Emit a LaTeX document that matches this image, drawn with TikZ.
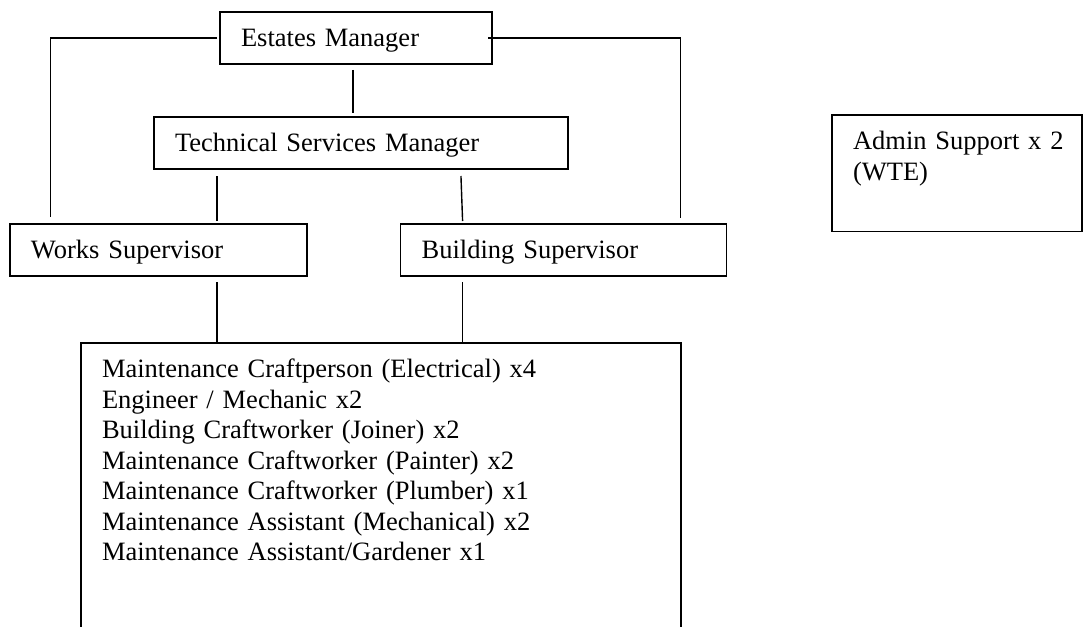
\documentclass[tikz,border=0pt]{standalone}
\usepackage{fontspec}
\setmainfont{Liberation Serif}
\begin{document}
\begin{tikzpicture}[x=0.5pt, y=-0.5pt,
        orgbox/.style={draw, line width=0.75pt, rectangle, anchor=north west,
            align=left, inner xsep=10.5pt, inner ysep=0pt, outer sep=0pt,
            text height=17.3pt, text depth=8.7pt,
            font=\fontsize{13.25pt}{15.25pt}\selectfont},
        link/.style={line width=0.7pt}]
\useasboundingbox (0,0) rectangle (1086,626);

\node[orgbox, text width=115pt] (estates) at (220,12) {Estates Manager};
\node[orgbox, text width=186pt] (techman) at (154,117) {Technical Services Manager};
\node[orgbox, text width=127.5pt] (works) at (10,224) {Works Supervisor};
\node[orgbox, text width=142pt] (building) at (400.7,224) {Building Supervisor};
\node[orgbox, text width=279pt, text depth=150pt] (crew) at (81,343) {Maintenance Craftperson (Electrical) x4\\
    Engineer / Mechanic x2\\
    Building Craftworker (Joiner) x2\\
    Maintenance Craftworker (Painter) x2\\
    Maintenance Craftworker (Plumber) x1\\
    Maintenance Assistant (Mechanical) x2\\
    Maintenance Assistant/Gardener x1};
\node[orgbox, text width=104pt, text depth=41pt] (admin) at (832,115) {\mbox{Admin Support x 2}\\(WTE)};

% lines between the boxes
\draw[link, shorten <=1.5pt, shorten >=3.5pt] (estates.west) -| ([xshift=20.3pt]works.north west);
\draw[link, shorten <=-2pt, shorten >=3pt] (estates.east) -| ([xshift=-23pt]building.north east);
\draw[link, shorten <=3pt, shorten >=2pt] ([xshift=-1.5pt]estates.south) -- ([xshift=-1.5pt]estates.south |- techman.north);
\draw[link, shorten <=3.5pt, shorten >=1.5pt] ([xshift=103.5pt]works.north west |- techman.south) -- ([xshift=103.5pt]works.north west);
\draw[link, shorten <=3.5pt, shorten >=1.5pt] ([xshift=30pt]building.north west |- techman.south) -- ([xshift=31pt]building.north west);
\draw[link, shorten <=3pt] ([xshift=103.5pt]works.south west) -- ([xshift=103.5pt]works.south west |- crew.north);
\draw[link, shorten <=3pt] ([xshift=31pt]building.south west) -- ([xshift=31pt]building.south west |- crew.north);

\end{tikzpicture}
\end{document}
